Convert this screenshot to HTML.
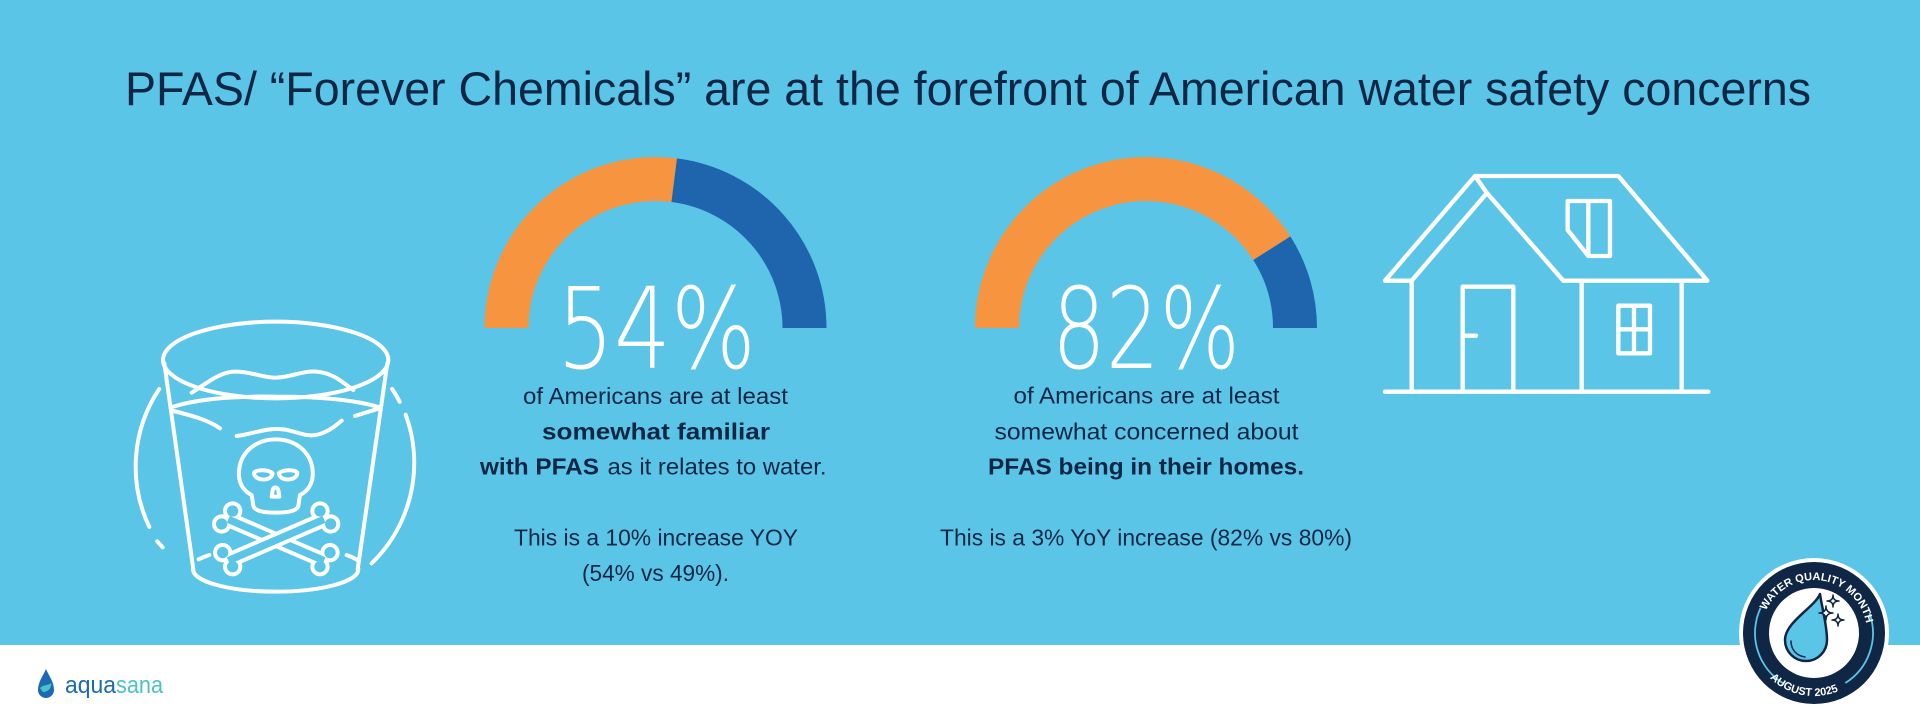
<!DOCTYPE html>
<html>
<head>
<meta charset="utf-8">
<style>
html,body{margin:0;padding:0;width:1920px;height:726px;overflow:hidden;background:#5BC5E8;}
svg{display:block;}
</style>
</head>
<body>
<svg width="1920" height="726" viewBox="0 0 1920 726" xmlns="http://www.w3.org/2000/svg">
  <rect x="0" y="0" width="1920" height="645" fill="#5BC5E8"/>
  <rect x="0" y="645" width="1920" height="81" fill="#FFFFFF"/>

  <!-- Title -->
  <text x="125" y="105" font-family="'Liberation Sans', sans-serif" font-size="47" fill="#0F2645" textLength="1686" lengthAdjust="spacingAndGlyphs">PFAS/ “Forever Chemicals” are at the forefront of American water safety concerns</text>

  <!-- Gauge 1 -->
  <path d="M506.5 328 A149 149 0 0 1 674.2 180.2" fill="none" stroke="#F7943F" stroke-width="44"/>
  <path d="M674.2 180.2 A149 149 0 0 1 804.5 328" fill="none" stroke="#1E65AE" stroke-width="44"/>

  <!-- Gauge 2 -->
  <path d="M997 328 A149 149 0 0 1 1271.8 248.2" fill="none" stroke="#F7943F" stroke-width="44"/>
  <path d="M1271.8 248.2 A149 149 0 0 1 1295 328" fill="none" stroke="#1E65AE" stroke-width="44"/>

  <!-- Big numbers -->
  <text x="557" y="368" font-family="'DejaVu Sans', 'Liberation Sans', sans-serif" font-weight="200" font-size="112" fill="#FFFFFF" textLength="199" lengthAdjust="spacingAndGlyphs">54%</text>
  <text x="1052" y="368" font-family="'DejaVu Sans', 'Liberation Sans', sans-serif" font-weight="200" font-size="112" fill="#FFFFFF" textLength="188" lengthAdjust="spacingAndGlyphs">82%</text>

  <!-- Block 1 text -->
  <g font-family="'Liberation Sans', sans-serif" font-size="23" fill="#0F2645">
    <text x="523" y="404" textLength="265" lengthAdjust="spacingAndGlyphs">of Americans are at least</text>
    <text x="542" y="439.5" font-weight="bold" textLength="228" lengthAdjust="spacingAndGlyphs">somewhat familiar</text>
    <text x="480" y="474.5" font-weight="bold" textLength="119" lengthAdjust="spacingAndGlyphs">with PFAS</text>
    <text x="607.5" y="474.5" textLength="219" lengthAdjust="spacingAndGlyphs">as it relates to water.</text>
    <text x="514" y="545.5" textLength="284" lengthAdjust="spacingAndGlyphs">This is a 10% increase YOY</text>
    <text x="582" y="581" textLength="147" lengthAdjust="spacingAndGlyphs">(54% vs 49%).</text>
  </g>

  <!-- Block 2 text -->
  <g font-family="'Liberation Sans', sans-serif" font-size="23" fill="#0F2645">
    <text x="1013.5" y="403.5" textLength="266" lengthAdjust="spacingAndGlyphs">of Americans are at least</text>
    <text x="994.5" y="439.5" textLength="304" lengthAdjust="spacingAndGlyphs">somewhat concerned about</text>
    <text x="988" y="474.5" font-weight="bold" textLength="316" lengthAdjust="spacingAndGlyphs">PFAS being in their homes.</text>
    <text x="940" y="545.5" textLength="412" lengthAdjust="spacingAndGlyphs">This is a 3% YoY increase (82% vs 80%)</text>
  </g>

  <!-- Glass icon -->
  <g transform="translate(120,310) scale(0.33333)" fill="none" stroke="#FFFFFF" stroke-width="12" stroke-linecap="round" stroke-linejoin="round">
    <ellipse cx="467" cy="150" rx="338" ry="115"/>
    <path d="M215 248 C 260 220, 300 185, 345 185 C 400 185, 430 205, 470 203 C 520 200, 545 182, 590 185 C 640 190, 665 215, 700 240"/>
    <path d="M160 290 C 250 262, 380 258, 467 260 C 560 260, 690 265, 778 292"/>
    <path d="M160 303 C 210 315, 265 330, 300 355"/>
    <path d="M705 318 C 730 310, 755 302, 775 296"/>
    <path d="M350 378 C 400 372, 440 352, 490 358 C 530 363, 560 385, 600 372 C 630 362, 650 345, 665 332"/>
    <path d="M133 160 L 220 778"/>
    <path d="M802 160 L 713 778"/>
    <path d="M219 778 A 248 67 0 0 0 715 778"/>
    <path d="M236 748 C 248 742, 258 738, 268 735"/>
    <path d="M680 735 C 692 739, 702 744, 712 750"/>
    <path d="M87.9 650.8 A 420 420 0 0 1 117.6 237"/>
    <path d="M128 712 A 420 420 0 0 1 111.6 693.8" />
    <path d="M816.4 237 A 420 420 0 0 1 839.2 275.4"/>
    <path d="M857 314 A 420 420 0 0 1 755 760"/>
    <path d="M395 555 C 365 540, 355 512, 357 485 C 360 425, 410 388, 467 388 C 525 388, 575 425, 578 485 C 580 512, 570 540, 540 555 L 535 588 C 530 603, 505 608, 467 608 C 430 608, 405 603, 400 588 Z"/>
    <path d="M402 488 C 410 478, 445 478, 458 490 C 455 505, 440 510, 425 508 C 410 506, 402 498, 402 488 Z"/>
    <path d="M532 488 C 524 478, 489 478, 476 490 C 479 505, 494 510, 509 508 C 524 506, 532 498, 532 488 Z"/>
    <path d="M455 560 L 458 540 C 460 530, 472 530, 475 540 L 478 560 Z"/>
  </g>
  <!-- bones -->
  <g transform="translate(120,310) scale(0.33333)">
    <g fill="#FFFFFF">
      <line x1="325" y1="628" x2="612" y2="752" stroke="#FFFFFF" stroke-width="46"/>
      <circle cx="338" cy="603" r="29"/><circle cx="305" cy="642" r="29"/>
      <circle cx="630" cy="728" r="29"/><circle cx="600" cy="770" r="29"/>
    </g>
    <g fill="#5BC5E8">
      <line x1="325" y1="628" x2="612" y2="752" stroke="#5BC5E8" stroke-width="22"/>
      <circle cx="338" cy="603" r="17"/><circle cx="305" cy="642" r="17"/>
      <circle cx="630" cy="728" r="17"/><circle cx="600" cy="770" r="17"/>
    </g>
    <g fill="#FFFFFF">
      <line x1="612" y1="628" x2="325" y2="752" stroke="#FFFFFF" stroke-width="46"/>
      <circle cx="600" cy="603" r="29"/><circle cx="632" cy="642" r="29"/>
      <circle cx="308" cy="728" r="29"/><circle cx="338" cy="770" r="29"/>
    </g>
    <g fill="#5BC5E8">
      <line x1="612" y1="628" x2="325" y2="752" stroke="#5BC5E8" stroke-width="22"/>
      <circle cx="600" cy="603" r="17"/><circle cx="632" cy="642" r="17"/>
      <circle cx="308" cy="728" r="17"/><circle cx="338" cy="770" r="17"/>
    </g>
  </g>

  <!-- House icon -->
  <g transform="translate(1370,160) scale(0.33333)" fill="none" stroke="#FFFFFF" stroke-width="13" stroke-linecap="round" stroke-linejoin="round">
    <path d="M45 695 L 1015 695"/>
    <path d="M125 362 L 45 362 L 315 48 L 745 48 L 1012 362 L 580 362"/>
    <path d="M315 48 L 350 98 L 580 362"/>
    <path d="M350 100 L 125 362"/>
    <path d="M125 362 L 125 695"/>
    <path d="M635 362 L 635 695"/>
    <path d="M935 362 L 935 695"/>
    <path d="M278 695 L 278 380 L 430 380 L 430 695"/>
    <path d="M285 527 L 318 527"/>
    <rect x="745" y="437" width="95" height="143"/>
    <path d="M792 437 L 792 580 M 745 508 L 840 508"/>
    <path d="M593 123 L 720 123 L 720 288 L 655 288 L 593 210 Z"/>
    <path d="M655 123 L 655 288"/>
  </g>

  <!-- Badge -->
  <g>
    <circle cx="1814" cy="633" r="75" fill="#FFFFFF"/>
    <circle cx="1814" cy="633" r="71" fill="#0F2645"/>
    <circle cx="1814" cy="633" r="45" fill="#FFFFFF"/>
    <path d="M1869.4 612.8 A59 59 0 0 1 1845.3 683" fill="none" stroke="#5BC5E8" stroke-width="1.8"/>
    <path d="M1782.7 683 A59 59 0 0 1 1760.5 608.1" fill="none" stroke="#5BC5E8" stroke-width="1.8"/>
    <defs>
      <path id="topArc" d="M1761 633 A53 53 0 0 1 1867 633"/>
      <path id="botArc" d="M1751 633 A63 63 0 0 0 1877 633"/>
    </defs>
    <text font-family="'Liberation Sans', sans-serif" font-weight="bold" font-size="11" fill="#FFFFFF" text-anchor="middle">
      <textPath href="#topArc" startOffset="54%">WATER QUALITY MONTH</textPath>
    </text>
    <text font-family="'Liberation Sans', sans-serif" font-weight="bold" font-size="11" fill="#FFFFFF" text-anchor="middle">
      <textPath href="#botArc" startOffset="44%">AUGUST 2025</textPath>
    </text>
    <path d="M1820 594 C 1815 607, 1785 622, 1785 640 A21 21 0 0 0 1827 640 C 1827 625, 1822 608, 1820 594 Z" fill="#5BC5E8" stroke="#0F2645" stroke-width="2.5" stroke-linejoin="round"/>
    <path d="M1791 641 C 1791 650, 1797 656, 1805 657" fill="none" stroke="#0F2645" stroke-width="1.5" stroke-linecap="round"/>
    <path d="M1833 595 Q1833 601 1839 601 Q1833 601 1833 607 Q1833 601 1827 601 Q1833 601 1833 595 Z" fill="#FFFFFF" stroke="#0F2645" stroke-width="1.5" stroke-linejoin="round"/>
    <path d="M1826 606 Q1826 613 1833 613 Q1826 613 1826 620 Q1826 613 1819 613 Q1826 613 1826 606 Z" fill="#FFFFFF" stroke="#0F2645" stroke-width="1.5" stroke-linejoin="round"/>
    <path d="M1838 614 Q1838 620 1844 620 Q1838 620 1838 626 Q1838 620 1832 620 Q1838 620 1838 614 Z" fill="#FFFFFF" stroke="#0F2645" stroke-width="1.5" stroke-linejoin="round"/>
  </g>

  <!-- Aquasana logo -->
  <g>
    <path d="M46 669 C 43 676, 38 682, 38 690 A8 8 0 0 0 54 690 C 54 682, 49 676, 46 669 Z" fill="#1C6AB3"/>
    <path d="M40 688 C 44 684, 48 686, 51 683 C 52 688, 48 692, 43 692 Z" fill="#4DC1C9"/>
    <text x="65" y="693" font-family="'Liberation Sans', sans-serif" font-size="24" fill="#1C6AB3" textLength="51" lengthAdjust="spacingAndGlyphs">aqua</text>
    <text x="116" y="693" font-family="'Liberation Sans', sans-serif" font-size="24" fill="#4DC1C9" textLength="47" lengthAdjust="spacingAndGlyphs">sana</text>
  </g>
</svg>
</body>
</html>
